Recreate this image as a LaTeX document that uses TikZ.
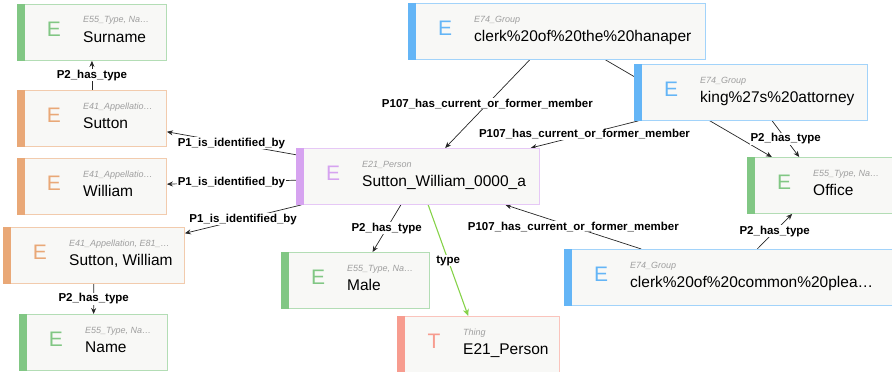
\documentclass[tikz,border=0pt]{standalone}
\usepackage{fontspec}
\setmainfont{Liberation Sans}
\usetikzlibrary{arrows.meta,backgrounds}
\definecolor{cgreen}{HTML}{81C784}
\definecolor{corange}{HTML}{E9A877}
\definecolor{cpurple}{HTML}{D6A3F0}
\definecolor{cblue}{HTML}{64B5F6}
\definecolor{cred}{HTML}{F79C8F}
\definecolor{ctype}{HTML}{86D249}
\definecolor{boxfill}{HTML}{F8F8F6}
\tikzset{
  ent/.style={draw=#1!60, fill=boxfill, line width=0.9pt, anchor=north west, inner sep=0pt, minimum height=56pt},
  rel/.style={draw=black!85, line width=0.7pt, -{Stealth[length=6pt,width=5pt]}},
  rellbl/.style={midway, font=\bfseries\fontsize{11.5}{12}\selectfont, fill=white, inner sep=0.6pt},
}
\begin{document}
\begin{tikzpicture}[x=1pt,y=-1pt]
\useasboundingbox (0,0) rectangle (892,372);
\clip (0,0) rectangle (892,372);
% entities: name/x/y/width/colour/letter/class/label
\foreach \nm/\xx/\yy/\ww/\col/\ltr/\typ/\lab in {
  surname/17/4/149/cgreen/E/{E55\_Type, Na…}/Surname,
  sutton/17/90/149/corange/E/{E41\_Appellatio…}/Sutton,
  william/17/158/149/corange/E/{E41\_Appellatio…}/William,
  suttonw/3/227/181/corange/E/{E41\_Appellation, E81\_…}/{Sutton, William},
  name/19/314/148/cgreen/E/{E55\_Type, Na…}/Name,
  person/296/148/243/cpurple/E/{E21\_Person}/{Sutton\_William\_0000\_a},
  male/281/252/148/cgreen/E/{E55\_Type, Na…}/Male,
  thing/397/316/162/cred/T/Thing/{E21\_Person},
  hanaper/408/3/297/cblue/E/{E74\_Group}/{clerk\%20of\%20the\%20hanaper},
  king/634/64/233/cblue/E/{E74\_Group}/{king\%27s\%20attorney},
  office/747/157/146/cgreen/E/{E55\_Type, Na…}/Office,
  pleas/564/249/329/cblue/E/{E74\_Group}/{clerk\%20of\%20common\%20plea…}}{
  \node[ent=\col, minimum width=\ww pt] (\nm) at (\xx,\yy) {};
  \fill[\col] (\nm.north west) rectangle ([xshift=8pt]\nm.south west);
  \node[font=\fontsize{21}{21}\selectfont, text=\col, inner sep=0pt] (\nm-l) at ([xshift=37pt,yshift=-25pt]\nm.north west) {\ltr};
  \node[anchor=base west, font=\itshape\fontsize{9}{9}\selectfont, text=gray!75, inner sep=0pt] (\nm-t) at ([xshift=66pt,yshift=-19pt]\nm.north west) {\typ};
  \node[anchor=base west, font=\fontsize{15.5}{16}\selectfont, inner sep=0pt] (\nm-m) at ([xshift=66pt,yshift=-38pt]\nm.north west) {\lab};
}
\begin{pgfonlayer}{background}
\draw[rel] (sutton) -- (surname) node[rellbl] {P2\_has\_type};
\draw[rel] (person) -- (sutton) node[rellbl] {P1\_is\_identified\_by};
\draw[rel] (person) -- (william) node[rellbl] {P1\_is\_identified\_by};
\draw[rel] (person) -- (suttonw) node[rellbl] {P1\_is\_identified\_by};
\draw[rel] (suttonw) -- (name) node[rellbl] {P2\_has\_type};
\draw[rel] (person) -- (male) node[rellbl] {P2\_has\_type};
\draw[rel,draw=ctype,line width=1.1pt,-{Stealth[length=7pt,width=6pt,fill=ctype]}] (person) -- (thing) node[rellbl] {type};
\draw[rel] (hanaper) -- (person) node[rellbl] {P107\_has\_current\_or\_former\_member};
\draw[rel] (king) -- (person) node[rellbl] {P107\_has\_current\_or\_former\_member};
\draw[rel] (pleas) -- (person) node[rellbl] {P107\_has\_current\_or\_former\_member};
\draw[rel] (hanaper) -- (office) node[rellbl] {P2\_has\_type};
\draw[rel] (king) -- (office) node[rellbl] {P2\_has\_type};
\draw[rel] (pleas) -- (office) node[rellbl] {P2\_has\_type};
\end{pgfonlayer}
\end{tikzpicture}
\end{document}
